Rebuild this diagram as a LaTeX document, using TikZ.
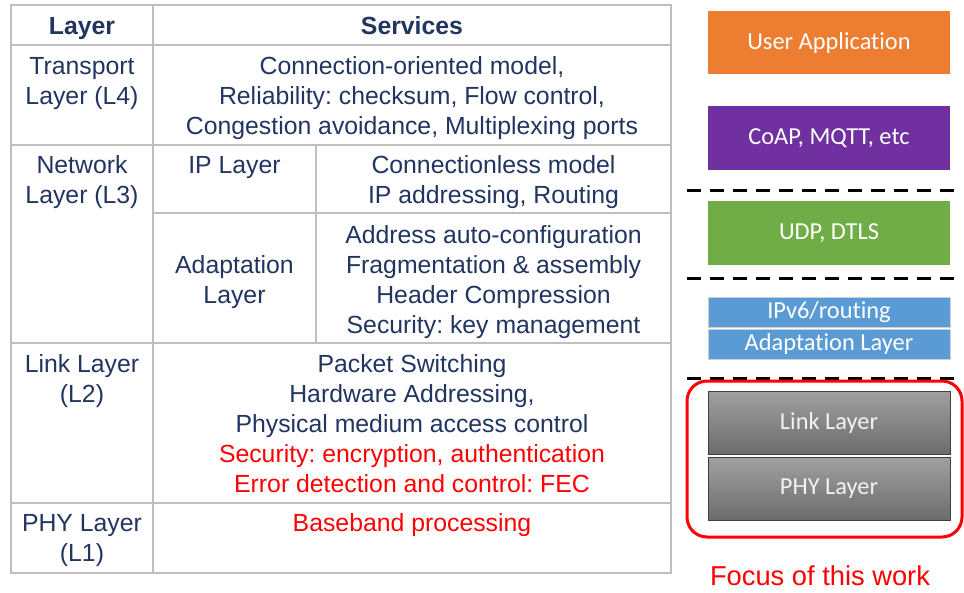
\documentclass[tikz,border=0pt]{standalone}
\usepackage{fontspec}
\setmainfont{Liberation Sans}
\newfontfamily\boxfont{Carlito}[Ligatures=NoCommon]
\usetikzlibrary{positioning}
\frenchspacing

\definecolor{navy}{HTML}{223561}
\definecolor{gridgray}{HTML}{BFBFBF}
\definecolor{fRed}{HTML}{FF0000}
\definecolor{appOrange}{HTML}{ED7D31}
\definecolor{protoPurple}{HTML}{7030A0}
\definecolor{udpGreen}{HTML}{70AD47}
\definecolor{ipBlue}{HTML}{5B9BD5}
\definecolor{ipEdge}{HTML}{D0D0D0}
\definecolor{grayTop}{HTML}{A0A0A0}
\definecolor{grayBot}{HTML}{6C6C6C}
\definecolor{grayEdge}{HTML}{404040}

\begin{document}
\begin{tikzpicture}[x=1pt,y=-1pt,
  grid/.style={draw=gridgray, line width=2pt},
  cell/.style={anchor=north, inner sep=0pt, align=center, text=navy,
               font=\fontsize{24.8}{30}\selectfont},
  stackbox/.style={minimum width=242pt, inner sep=0pt, text=white,
                   font=\boxfont\fontsize{24.4}{30}\selectfont},
  graybox/.style={stackbox, top color=grayTop, bottom color=grayBot,
                  draw=grayEdge, line width=1pt, minimum height=63pt, text=white!95!black},
  sepline/.style={draw=black, line width=3pt, dash pattern=on 14pt off 9pt},
]
\useasboundingbox (0,0) rectangle (964,592);
\fill[white] (0,0) rectangle (964,592);

% ---------- table grid ----------
\draw[grid] (11,5) rectangle (671,573);
\draw[grid] (153,5) -- (153,573);
\draw[grid] (316,145) -- (316,343);
\foreach \yy in {45,145,343,503}
  \draw[grid] (11,\yy) -- (671,\yy);
\draw[grid] (153,213) -- (671,213);

% ---------- header ----------
\node[cell] (hLayer) at (82,13) {\bfseries\strut Layer};
\node[cell] (hServ) at (412,13) {\bfseries\strut Services};

% ---------- transport ----------
\node[cell] (l4) at (82,53) {\strut Transport\\\strut Layer (L4)};
\node[cell] (l4s) at (412,53) {\strut Connection-oriented model,\\
  \strut Reliability: checksum, Flow control,\\
  \strut Congestion avoidance, Multiplexing ports};

% ---------- network ----------
\node[cell] (l3) at (82,152.5) {\strut Network\\\strut Layer (L3)};
\node[cell] (ip) at (234.5,152.5) {\strut IP Layer};
\node[cell] (ips) at (493.5,152.5) {\strut Connectionless model\\
  \strut IP addressing, Routing};
\node[cell] (ad) at (234.5,252.5) {\strut Adaptation\\\strut Layer};
\node[cell] (ads) at (493.5,222) {\strut Address auto-configuration\\
  \strut Fragmentation \& assembly\\
  \strut Header Compression\\
  \strut Security: key management};

% ---------- link ----------
\node[cell] (l2) at (82,351) {\strut Link Layer\\\strut (L2)};
\node[cell] (l2s) at (412,351) {\strut Packet Switching\\
  \strut Hardware Addressing,\\
  \strut Physical medium access control\\
  \textcolor{fRed}{\strut Security: encryption, authentication}\\
  \textcolor{fRed}{\strut Error detection and control: FEC}};

% ---------- phy ----------
\node[cell] (l1) at (82,510.5) {\strut PHY Layer\\\strut (L1)};
\node[cell, text=fRed] (l1s) at (412,510.5) {\strut Baseband processing};

% ---------- protocol stack ----------
\node[stackbox, fill=appOrange, minimum height=63pt] (app) at (829,42.5) {User Application};
\node[stackbox, fill=protoPurple, minimum height=64pt] (coap) at (829,138) {CoAP, MQTT, etc};
\draw[sepline] (687,190) -- (957,190);
\node[stackbox, fill=udpGreen, minimum height=64pt] (udp) at (829,233) {UDP, DTLS};
\draw[sepline] (687,278) -- (957,278);
\node[stackbox, fill=ipBlue, draw=ipEdge, line width=1pt, minimum height=30pt] (ipv6) at (829,312) {IPv6/routing};
\node[stackbox, fill=ipBlue, draw=ipEdge, line width=1pt, minimum height=30pt] (adapt) at (829,344) {Adaptation Layer};
\draw[sepline] (687,378) -- (957,378);

\node[draw=fRed, line width=3pt, rounded corners=20pt, minimum width=275pt,
      minimum height=156pt, inner sep=0pt] (focus) at (824.5,459) {};
\node[graybox] (link) at (829,422.5) {Link Layer};
\node[graybox] (phy) at (829,488.5) {PHY Layer};

\node[anchor=base, inner sep=0pt, text=fRed, font=\fontsize{27.3}{32}\selectfont]
  (focusLabel) at (820,585) {Focus of this work};
\end{tikzpicture}
\end{document}
